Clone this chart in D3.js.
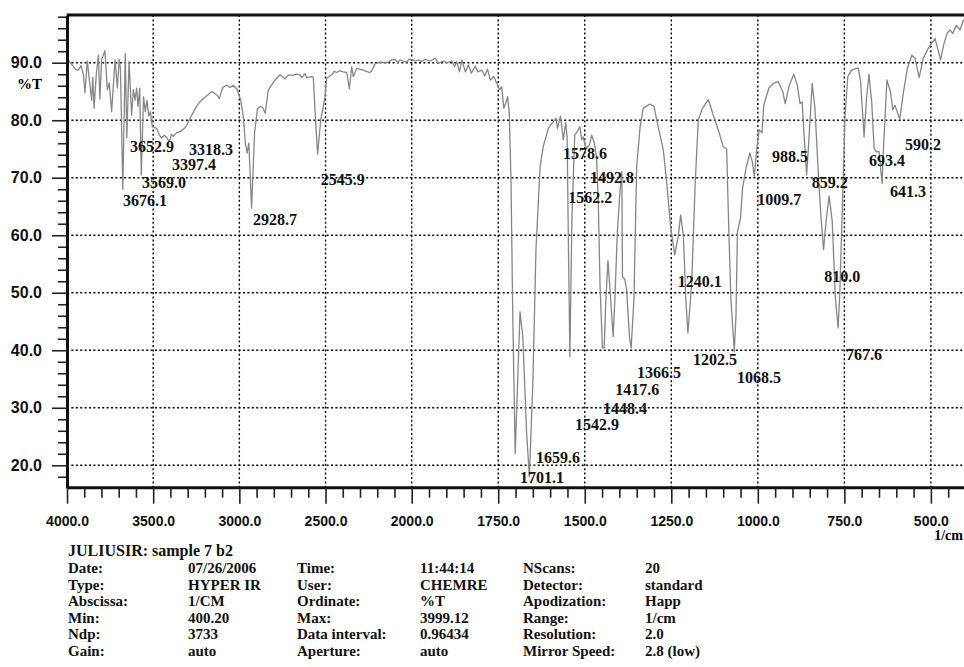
<!DOCTYPE html>
<html>
<head>
<meta charset="utf-8">
<script src="https://cdn.jsdelivr.net/npm/d3@7"></script>
<style>
	body { margin: 0; background: #fff; }
	svg { display: block; font-family: "Liberation Serif", "Times New Roman", serif; font-weight: bold; }
	.grid line { stroke: #000; stroke-width: 1.4; stroke-dasharray: 2,2.4; }
	.axis path { stroke: #111; stroke-width: 3; }
	.axis line { stroke: #222; stroke-width: 1.6; }
	.axis text { fill: #111; }
</style>
</head>
<body>
<svg id="chart"></svg>
<script>
// IR spectrum, [wavenumber (1/cm), %T]
const spectrum = [
	[4000, 90.3], [3992, 90.5], [3970, 89.6], [3950, 88.8], [3936, 88.7], [3918, 89.5], [3905, 88.0],
	[3896, 84.8], [3882, 90.3], [3870, 87.0], [3857, 83.5], [3850, 87.5], [3843, 82.1], [3830, 88.0],
	[3818, 91.3], [3809, 83.7], [3799, 90.5], [3780, 92.1], [3766, 85.3], [3755, 86.5], [3741, 81.5],
	[3721, 90.5], [3708, 85.6], [3697, 90.6], [3690, 89.0], [3676, 68.0], [3662, 91.6], [3653, 76.9],
	[3640, 90.2], [3625, 80.9], [3615, 85.3], [3605, 83.5], [3596, 85.6], [3588, 82.4], [3578, 85.6],
	[3569, 70.5], [3556, 84.1], [3546, 81.5], [3536, 83.5], [3526, 80.7], [3516, 81.5], [3505, 78.9],
	[3480, 78.6], [3465, 77.5], [3451, 76.9], [3435, 77.4], [3422, 77.0], [3410, 76.4], [3402, 76.6],
	[3395, 77.5], [3383, 77.2], [3365, 77.8], [3344, 78.0], [3318, 78.6], [3305, 79.2], [3276, 80.9],
	[3247, 82.5], [3220, 83.5], [3199, 84.0], [3160, 85.0], [3140, 84.6], [3131, 84.4], [3116, 83.8],
	[3097, 85.7], [3073, 86.1], [3054, 85.7], [3035, 86.1], [3012, 85.3], [2992, 83.5], [2977, 80.6],
	[2965, 76.0], [2955, 74.3], [2945, 76.0], [2929, 64.7], [2912, 77.7], [2895, 82.0], [2880, 82.4],
	[2865, 82.2], [2850, 81.2], [2832, 85.3], [2793, 87.0], [2764, 87.9], [2735, 87.2], [2716, 87.9],
	[2690, 87.8], [2670, 88.0], [2648, 87.9], [2638, 87.4], [2619, 88.1], [2609, 87.4], [2580, 87.6],
	[2571, 87.5], [2561, 81.8], [2546, 74.1], [2528, 80.0], [2513, 82.4], [2503, 84.1], [2493, 87.3],
	[2464, 87.9], [2450, 88.5], [2435, 88.3], [2416, 88.6], [2397, 88.4], [2377, 88.3], [2362, 85.5],
	[2348, 89.3], [2339, 87.6], [2319, 89.0], [2281, 88.7], [2255, 88.4], [2242, 88.3], [2232, 88.6],
	[2213, 89.8], [2184, 90.1], [2145, 90.0], [2130, 90.2], [2116, 90.5], [2097, 90.6], [2080, 90.0],
	[2068, 90.5], [2049, 90.3], [2029, 90.1], [2015, 90.6], [2000, 90.6], [1990, 90.3], [1981, 90.5],
	[1971, 90.2], [1961, 90.6], [1947, 90.3], [1932, 90.8], [1923, 89.9], [1908, 90.3], [1898, 90.0],
	[1884, 90.3], [1876, 89.3], [1870, 90.2], [1862, 88.4], [1855, 90.5], [1845, 88.4], [1836, 89.6],
	[1828, 88.2], [1816, 89.4], [1809, 88.4], [1797, 88.7], [1789, 87.7], [1781, 88.9], [1773, 87.0],
	[1763, 87.6], [1754, 86.4], [1746, 85.3], [1740, 85.8], [1734, 82.1], [1727, 83.2], [1723, 84.1],
	[1718, 81.2], [1713, 69.0], [1708, 45.9], [1701, 22.0], [1687, 46.7], [1679, 42.4], [1668, 25.6],
	[1660, 18.0], [1650, 34.3], [1641, 57.5], [1629, 71.9], [1620, 75.4], [1605, 78.6], [1591, 79.8],
	[1583, 80.3], [1579, 78.6], [1570, 80.7], [1562, 76.6], [1555, 79.6], [1551, 77.1], [1547, 57.5],
	[1543, 38.9], [1537, 63.3], [1529, 77.4], [1522, 78.0], [1514, 78.9], [1509, 76.6], [1504, 77.1],
	[1499, 75.6], [1493, 75.2], [1486, 75.8], [1480, 77.4], [1472, 76.0], [1466, 73.6], [1461, 66.1],
	[1456, 51.6], [1449, 40.4], [1444, 40.4], [1439, 48.8], [1433, 55.6], [1427, 50.5], [1418, 42.4],
	[1413, 48.8], [1406, 60.4], [1398, 67.9], [1393, 71.1], [1391, 52.8], [1384, 52.3], [1379, 50.5],
	[1371, 42.4], [1366, 40.4], [1358, 48.8], [1350, 71.9], [1340, 78.9], [1331, 82.1], [1312, 82.8],
	[1300, 82.4], [1288, 78.9], [1273, 74.8], [1263, 69.0], [1252, 61.5], [1240, 56.6], [1230, 59.8],
	[1223, 63.5], [1215, 59.8], [1208, 48.8], [1202, 43.0], [1191, 51.7], [1181, 69.0], [1172, 80.0],
	[1162, 81.8], [1151, 82.9], [1143, 83.6], [1129, 80.9], [1114, 78.3], [1100, 75.4], [1090, 75.0],
	[1085, 63.5], [1078, 49.1], [1068, 39.8], [1063, 46.2], [1059, 60.6], [1050, 63.0], [1044, 68.2],
	[1034, 71.7], [1023, 74.3], [1016, 72.8], [1010, 70.2], [1003, 75.1], [996, 78.3], [988, 77.8],
	[983, 82.6], [968, 85.6], [955, 86.4], [941, 86.7], [928, 85.0], [921, 82.9], [909, 86.1],
	[896, 88.0], [886, 86.1], [878, 82.9], [872, 83.2], [867, 78.0], [859, 70.5], [851, 78.0],
	[843, 86.4], [835, 82.1], [825, 70.5], [818, 63.5], [810, 57.5], [803, 62.4], [794, 66.8],
	[785, 62.4], [776, 49.1], [768, 43.9], [763, 50.2], [755, 66.4], [748, 80.9], [740, 87.6],
	[729, 88.7], [710, 89.1], [703, 86.7], [693, 77.1], [686, 83.8], [679, 88.0], [671, 83.2],
	[664, 75.1], [657, 74.5], [650, 74.6], [641, 69.0], [637, 75.1], [627, 87.0], [617, 85.0],
	[610, 81.8], [604, 82.6], [599, 81.8], [590, 80.2], [579, 85.0], [568, 89.0], [555, 91.3],
	[546, 90.8], [534, 87.4], [522, 90.8], [505, 92.8], [488, 94.2], [479, 92.2], [472, 90.5],
	[462, 93.4], [453, 95.1], [445, 95.7], [437, 95.1], [426, 96.5], [416, 95.7], [406, 97.4], [400, 97.2]
];

const xTickValues = [4000, 3500, 3000, 2500, 2000, 1750, 1500, 1250, 1000, 750, 500];
const yTickValues = [20, 30, 40, 50, 60, 70, 80, 90];

const peakLabels = [3676.1, 3652.9, 3569.0, 3397.4, 3318.3, 2928.7, 2545.9, 1701.1, 1659.6, 1578.6,
	1562.2, 1542.9, 1492.8, 1448.4, 1417.6, 1366.5, 1240.1, 1202.5, 1068.5, 1009.7, 988.5, 859.2,
	810.0, 767.6, 693.4, 641.3, 590.2];

const sampleTitle = "JULIUSIR: sample 7 b2";
const infoKeys1 = ["Date:", "Type:", "Abscissa:", "Min:", "Ndp:", "Gain:"];
const infoVals1 = ["07/26/2006", "HYPER IR", "1/CM", "400.20", "3733", "auto"];
const infoKeys2 = ["Time:", "User:", "Ordinate:", "Max:", "Data interval:", "Aperture:"];
const infoVals2 = ["11:44:14", "CHEMRE", "%T", "3999.12", "0.96434", "auto"];
const infoKeys3 = ["NScans:", "Detector:", "Apodization:", "Range:", "Resolution:", "Mirror Speed:"];
const infoVals3 = ["20", "standard", "Happ", "1/cm", "2.0", "2.8 (low)"];

// where each peak label sits, [wavenumber of left edge, %T of baseline]
const peakLabelSpots = [
	[3675, 65.1], [3634, 74.5], [3565, 68.2], [3391, 71.3], [3292, 74.0], [2921, 61.8], [2528, 68.7],
	[1687, 16.9], [1641, 20.4], [1563, 73.3], [1548, 65.6], [1528, 26.1], [1485, 69.1], [1447, 28.9],
	[1412, 32.2], [1349, 35.2], [1231, 51.0], [1187, 37.4], [1060, 34.3], [1002, 65.3], [959, 72.7],
	[844, 68.2], [808, 51.9], [745, 38.3], [679, 72.0], [618, 66.6], [575, 74.8]
];

class SpectrumChart {
	constructor(_config, _data) {
		this.config = {
			parentElement: _config.parentElement,
			containerWidth: _config.containerWidth || 964,
			containerHeight: _config.containerHeight || 667,
			margin: _config.margin || { top: 15, left: 67 }
		}
		this.data = _data;
		this.initVis();
	}

	initVis() {
		let vis = this;

		vis.height = 472.7;

		// the 4000-2000 part is drawn at half the scale of the rest
		vis.xScale = d3.scaleLinear()
			.domain([4000, 2000, 400])
			.range([0, 344.7, 898.5]);

		vis.yScale = d3.scaleLinear()
			.domain([16.1, 98.3])
			.range([vis.height, 0]);

		vis.svg = d3.select(vis.config.parentElement)
			.attr("width", vis.config.containerWidth)
			.attr("height", vis.config.containerHeight);

		vis.chart = vis.svg.append("g")
			.attr("transform", `translate(${vis.config.margin.left},${vis.config.margin.top})`);

		vis.gridGroup = vis.chart.append("g").attr("class", "grid");
		vis.lineGroup = vis.chart.append("g");
		vis.labelGroup = vis.chart.append("g");

		vis.xMinorGroup = vis.chart.append("g").attr("class", "axis")
			.attr("transform", `translate(0,${vis.height})`);
		vis.xAxisGroup = vis.chart.append("g").attr("class", "axis x-axis")
			.attr("transform", `translate(0,${vis.height})`);
		vis.yMinorGroup = vis.chart.append("g").attr("class", "axis");
		vis.yAxisGroup = vis.chart.append("g").attr("class", "axis y-axis");
	}

	renderVis() {
		let vis = this;

		// minor ticks: every 100 above 2000, every 50 below
		const xMinor = d3.range(4000, 2000, -100).concat(d3.range(2000, 400, -50))
			.filter(d => !xTickValues.includes(d));
		const yMinor = d3.range(18, 99, 2).filter(d => d % 10 !== 0);

		vis.xMinorGroup.call(d3.axisBottom(vis.xScale).tickValues(xMinor).tickSize(10).tickFormat(""));
		vis.xMinorGroup.select(".domain").remove();
		vis.yMinorGroup.call(d3.axisLeft(vis.yScale).tickValues(yMinor).tickSize(9).tickFormat(""));
		vis.yMinorGroup.select(".domain").remove();

		vis.xAxisGroup.call(d3.axisBottom(vis.xScale)
			.tickValues(xTickValues)
			.tickSize(16)
			.tickSizeOuter(0)
			.tickFormat(d3.format(".1f")));
		vis.xAxisGroup.select(".domain").attr("d", `M0,0H${vis.config.containerWidth}`);
		vis.xAxisGroup.selectAll("text")
			.attr("y", 38)
			.attr("dy", 0)
			.style("font-size", "14px");

		vis.yAxisGroup.call(d3.axisLeft(vis.yScale)
			.tickValues(yTickValues)
			.tickSize(15)
			.tickSizeOuter(0)
			.tickFormat(d3.format(".1f")));
		vis.yAxisGroup.selectAll("text")
			.attr("x", -25)
			.style("font-size", "16px");

		// top frame line
		vis.chart.append("line")
			.attr("x1", 0).attr("x2", vis.config.containerWidth)
			.attr("y1", 0).attr("y2", 0)
			.attr("stroke", "#111")
			.attr("stroke-width", 3);

		vis.chart.append("text")
			.attr("x", -25)
			.attr("y", vis.yScale(85.4))
			.attr("text-anchor", "end")
			.style("font-size", "15px")
			.text("%T");

		vis.chart.append("text")
			.attr("x", vis.config.containerWidth - vis.config.margin.left - 1)
			.attr("y", vis.height + 52)
			.attr("text-anchor", "end")
			.style("font-size", "14px")
			.text("1/cm");

		// dotted grid
		vis.gridGroup.selectAll(".vgrid")
			.data(xTickValues.slice(1))
			.join("line")
			.attr("class", "vgrid")
			.attr("x1", d => vis.xScale(d)).attr("x2", d => vis.xScale(d))
			.attr("y1", 0).attr("y2", vis.height);

		vis.gridGroup.selectAll(".hgrid")
			.data(yTickValues)
			.join("line")
			.attr("class", "hgrid")
			.attr("x1", 0).attr("x2", vis.config.containerWidth)
			.attr("y1", d => vis.yScale(d)).attr("y2", d => vis.yScale(d));

		const line = d3.line()
			.x(d => vis.xScale(d[0]))
			.y(d => vis.yScale(d[1]));

		vis.lineGroup.append("path")
			.datum(vis.data)
			.attr("fill", "none")
			.attr("stroke", "#868686")
			.attr("stroke-width", 1.3)
			.attr("stroke-linejoin", "round")
			.attr("d", line);

		vis.labelGroup.selectAll(".peak-label")
			.data(peakLabels)
			.join("text")
			.attr("class", "peak-label")
			.attr("x", (d, i) => vis.xScale(peakLabelSpots[i][0]))
			.attr("y", (d, i) => vis.yScale(peakLabelSpots[i][1]))
			.attr("fill", "#111")
			.style("font-size", "16px")
			.text(d => d.toFixed(1));

		// sample info block under the chart
		const info = vis.svg.append("g").attr("fill", "#111");
		info.append("text")
			.attr("x", 68).attr("y", 556)
			.style("font-size", "16px")
			.text(sampleTitle);

		const columns = [
			[68, infoKeys1], [188, infoVals1], [297, infoKeys2],
			[420, infoVals2], [523, infoKeys3], [645, infoVals3]
		];
		columns.forEach(([x, rows]) => {
			info.append("g").selectAll("text")
				.data(rows)
				.join("text")
				.attr("x", x)
				.attr("y", (d, i) => 573 + i * 16.6)
				.style("font-size", "15px")
				.text(d => d);
		});
	}
}

const chart = new SpectrumChart({ parentElement: "#chart" }, spectrum);
chart.renderVis();
</script>
</body>
</html>
